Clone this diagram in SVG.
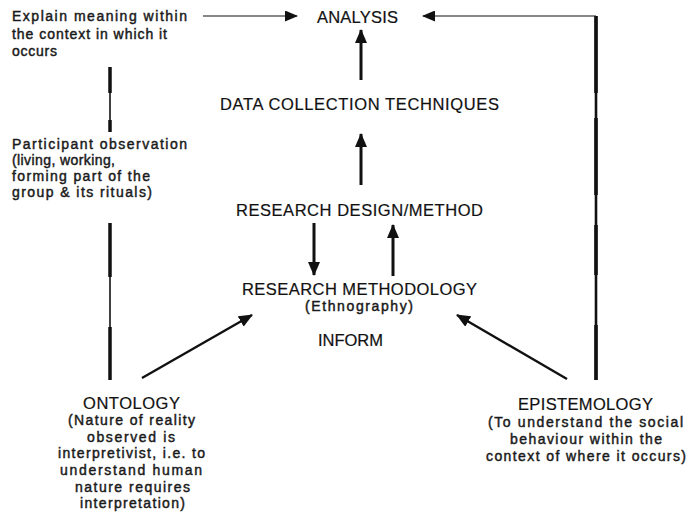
<svg xmlns="http://www.w3.org/2000/svg" width="690" height="514" viewBox="0 0 690 514">
<defs>
<style>
text{font-family:"Liberation Sans",Arial,sans-serif;fill:#111;}
.cap{font-size:16.5px;stroke:#111;stroke-width:0.2;}
.desc{font-size:14px;fill:#1a1a1a;stroke:#1a1a1a;stroke-width:0.45;}
.thin{stroke:#111;stroke-width:1.2;fill:none;}
.arr{stroke:#111;stroke-width:3;fill:none;}
.diag{stroke:#111;stroke-width:2.4;fill:none;}
.bar{stroke:#111;fill:none;}
</style>
<marker id="ah" viewBox="0 0 14 12" refX="13" refY="6" markerWidth="14" markerHeight="12" markerUnits="userSpaceOnUse" orient="auto">
<path d="M0,0 L14,6 L0,12 Z" fill="#111"/>
</marker>
<marker id="ahs" viewBox="0 0 13 11" refX="12" refY="5.5" markerWidth="13" markerHeight="11" markerUnits="userSpaceOnUse" orient="auto">
<path d="M0,0 L13,5.5 L0,11 Z" fill="#111"/>
</marker>
</defs>
<rect width="690" height="514" fill="#fff"/>

<g id="connectors">
<line class="thin" x1="203" y1="16" x2="297" y2="16" marker-end="url(#ahs)"/>
<polyline class="thin" points="596,16 423,16" marker-end="url(#ahs)"/>
<line class="arr" x1="361" y1="80" x2="361" y2="30" marker-end="url(#ah)"/>
<line class="arr" x1="361" y1="185" x2="361" y2="134" marker-end="url(#ah)"/>
<line class="arr" x1="314" y1="223" x2="314" y2="275" marker-end="url(#ah)"/>
<line class="arr" x1="393" y1="276" x2="393" y2="225" marker-end="url(#ah)"/>
<line class="diag" x1="142" y1="378" x2="252" y2="315" marker-end="url(#ah)"/>
<line class="diag" x1="567" y1="379" x2="457" y2="315" marker-end="url(#ah)"/>
<line class="bar" stroke-width="1.6" x1="110" y1="67" x2="110" y2="132"/>
<line class="bar" stroke-width="3.5" x1="110" y1="67" x2="110" y2="93"/>
<line class="bar" stroke-width="3.5" x1="110" y1="120" x2="110" y2="132"/>
<line class="bar" stroke-width="1.6" x1="110" y1="223" x2="110" y2="380"/>
<line class="bar" stroke-width="3.5" x1="110" y1="223" x2="110" y2="277"/>
<line class="bar" stroke-width="3.5" x1="110" y1="327" x2="110" y2="380"/>
<line class="bar" stroke-width="2.6" x1="596" y1="16" x2="596" y2="380"/>
<line class="bar" stroke-width="3.6" x1="596" y1="16" x2="596" y2="93"/>
<line class="bar" stroke-width="3.6" x1="596" y1="118" x2="596" y2="195"/>
<line class="bar" stroke-width="3.6" x1="596" y1="225" x2="596" y2="275"/>
<line class="bar" stroke-width="3.6" x1="596" y1="325" x2="596" y2="380"/>
</g>

<g id="analysis"><text class="cap" x="317" y="23" textLength="81" lengthAdjust="spacing">ANALYSIS</text></g>
<g id="data-collection"><text class="cap" x="220" y="110" textLength="279" lengthAdjust="spacing">DATA COLLECTION TECHNIQUES</text></g>
<g id="research-design"><text class="cap" x="236" y="216" textLength="247" lengthAdjust="spacing">RESEARCH DESIGN/METHOD</text></g>
<g id="research-methodology">
<text class="cap" x="242" y="295" textLength="235" lengthAdjust="spacing">RESEARCH METHODOLOGY</text>
<text class="desc" x="305" y="311" textLength="108" lengthAdjust="spacing">(Ethnography)</text>
</g>
<g id="inform"><text class="cap" x="318" y="346" textLength="65" lengthAdjust="spacing">INFORM</text></g>

<g id="explain">
<text class="desc" x="12" y="21" textLength="175" lengthAdjust="spacing">Explain meaning within</text>
<text class="desc" x="12" y="39" textLength="155" lengthAdjust="spacing">the context in which it</text>
<text class="desc" x="12" y="56" textLength="45" lengthAdjust="spacing">occurs</text>
</g>
<g id="participant">
<text class="desc" x="12" y="149" textLength="175" lengthAdjust="spacing">Participant observation</text>
<text class="desc" x="12" y="165" textLength="103" lengthAdjust="spacing">(living, working,</text>
<text class="desc" x="12" y="181" textLength="138" lengthAdjust="spacing">forming part of the</text>
<text class="desc" x="12" y="197" textLength="140" lengthAdjust="spacing">group &amp; its rituals)</text>
</g>
<g id="ontology">
<text class="cap" x="83" y="409" textLength="97" lengthAdjust="spacing">ONTOLOGY</text>
<text class="desc" x="68" y="425" textLength="127" lengthAdjust="spacing">(Nature of reality</text>
<text class="desc" x="87" y="442" textLength="88" lengthAdjust="spacing">observed is</text>
<text class="desc" x="58" y="458" textLength="147" lengthAdjust="spacing">interpretivist, i.e. to</text>
<text class="desc" x="60" y="475" textLength="142" lengthAdjust="spacing">understand human</text>
<text class="desc" x="75" y="492" textLength="115" lengthAdjust="spacing">nature requires</text>
<text class="desc" x="80" y="508" textLength="105" lengthAdjust="spacing">interpretation)</text>
</g>
<g id="epistemology">
<text class="cap" x="518" y="410" textLength="135" lengthAdjust="spacing">EPISTEMOLOGY</text>
<text class="desc" x="488" y="427" textLength="195" lengthAdjust="spacing">(To understand the social</text>
<text class="desc" x="510" y="444" textLength="152" lengthAdjust="spacing">behaviour within the</text>
<text class="desc" x="486" y="461" textLength="200" lengthAdjust="spacing">context of where it occurs)</text>
</g>
</svg>
